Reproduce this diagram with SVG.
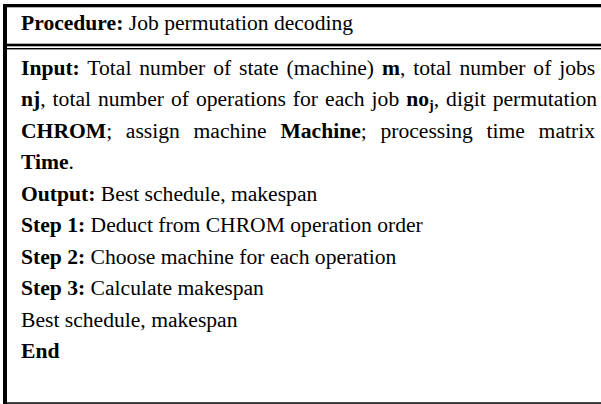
<svg xmlns="http://www.w3.org/2000/svg" width="601" height="404" viewBox="0 0 601 404">
<style>
text{font-family:"Liberation Serif","Times New Roman",serif;font-size:21.6px;fill:#000}
.b{font-weight:bold}
.sub{font-size:14px;font-weight:bold}
</style>
<rect x="0" y="0" width="601" height="404" fill="#fff"/>
<g id="frame" fill="#000">
<rect x="3" y="4" width="598" height="3.3"/>
<rect x="3" y="4" width="4" height="400"/>
<rect x="3" y="43.7" width="598" height="2.6"/>
<rect x="3" y="48" width="598" height="1.4"/>
<rect x="3" y="402.3" width="598" height="1.5"/>
</g>
<g id="title">
<text x="21" y="30"><tspan class="b">Procedure:</tspan> Job permutation decoding</text>
</g>
<g id="body">
<text x="21" y="74.5" word-spacing="2.5"><tspan class="b">Input:</tspan> Total number of state (machine) <tspan class="b">m</tspan>, total number of jobs</text>
<text x="21" y="106" word-spacing="1.6"><tspan class="b">nj</tspan>, total number of operations for each job <tspan class="b">no</tspan><tspan class="sub" dy="4">j</tspan><tspan dy="-4">, digit permutation</tspan></text>
<text x="21" y="137.5" word-spacing="8.3"><tspan class="b">CHROM</tspan>; assign machine <tspan class="b">Machine</tspan>; processing time matrix</text>
<text x="21" y="169"><tspan class="b">Time</tspan>.</text>
<text x="21" y="200.5"><tspan class="b">Output:</tspan> Best schedule, makespan</text>
<text x="21" y="232"><tspan class="b">Step 1:</tspan> Deduct from CHROM operation order</text>
<text x="21" y="263.5"><tspan class="b">Step 2:</tspan> Choose machine for each operation</text>
<text x="21" y="295"><tspan class="b">Step 3:</tspan> Calculate makespan</text>
<text x="21" y="326.5">Best schedule, makespan</text>
<text x="21" y="358" class="b">End</text>
</g>
</svg>
